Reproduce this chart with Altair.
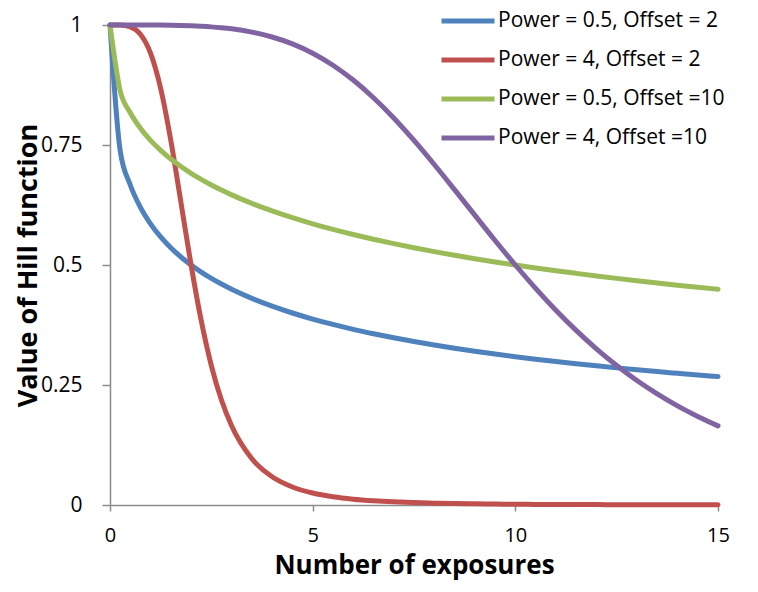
import altair as alt
import pandas as pd

x_vals = [0, 0.25, 0.5, 0.75, 1, 1.25, 1.5, 1.75, 2, 2.25, 2.5, 2.75, 3, 3.5, 4, 4.5, 5,
          5.5, 6, 6.5, 7, 7.5, 8, 8.5, 9, 9.5, 10, 10.5, 11, 11.5, 12, 12.5, 13, 13.5,
          14, 14.5, 15]

series_names = ["Power = 0.5, Offset = 2", "Power = 4, Offset = 2",
                "Power = 0.5, Offset =10", "Power = 4, Offset =10"]
series_colors = ["#4F81BD", "#C0504D", "#9BBB59", "#8064A2"]

blue = [1, 0.7388, 0.6667, 0.6202, 0.5858, 0.5585, 0.5359, 0.5167, 0.5, 0.4853, 0.4721,
        0.4603, 0.4495, 0.4305, 0.4142, 0.4, 0.3874, 0.3762, 0.3660, 0.3568, 0.3483,
        0.3405, 0.3333, 0.3266, 0.3204, 0.3145, 0.3090, 0.3038, 0.2989, 0.2943, 0.2899,
        0.2857, 0.2817, 0.2779, 0.2743, 0.2708, 0.2675]
red = [1, 0.9998, 0.9961, 0.9806, 0.9412, 0.8676, 0.7596, 0.6305, 0.5, 0.3844, 0.2906,
       0.2186, 0.1649, 0.0963, 0.0588, 0.0376, 0.0250, 0.0172, 0.0122, 0.0089, 0.0066,
       0.0050, 0.0039, 0.0031, 0.0024, 0.0020, 0.0016, 0.0013, 0.0011, 0.0009, 0.0008,
       0.0007, 0.0006, 0.0005, 0.0004, 0.0004, 0.0003]
green = [1, 0.8635, 0.8173, 0.7850, 0.7597, 0.7388, 0.7208, 0.7051, 0.6910, 0.6783,
         0.6667, 0.6560, 0.6461, 0.6283, 0.6126, 0.5985, 0.5858, 0.5742, 0.5635, 0.5536,
         0.5445, 0.5359, 0.5279, 0.5203, 0.5132, 0.5064, 0.5, 0.4939, 0.4881, 0.4826,
         0.4772, 0.4721, 0.4673, 0.4626, 0.4580, 0.4537, 0.4495]
purple = [1, 1, 1, 1, 0.9999, 0.9998, 0.9995, 0.9991, 0.9984, 0.9974, 0.9961, 0.9943,
          0.9920, 0.9852, 0.9750, 0.9606, 0.9412, 0.9162, 0.8853, 0.8485, 0.8064, 0.7596,
          0.7094, 0.6570, 0.6038, 0.5511, 0.5, 0.4514, 0.4058, 0.3638, 0.3254, 0.2906,
          0.2593, 0.2314, 0.2065, 0.1845, 0.1649]

y_ticks = [0, 0.25, 0.5, 0.75, 1]
x_ticks = [0, 5, 10, 15]

rows = []
for name, vals in zip(series_names, [blue, red, green, purple]):
    for xv, yv in zip(x_vals, vals):
        rows.append({"x": xv, "y": yv, "series": name})
df = pd.DataFrame(rows)

FONT = "Open Sans"

chart = alt.Chart(df).mark_line(strokeWidth=5, interpolate="monotone", strokeCap="round").encode(
    x=alt.X("x:Q", scale=alt.Scale(domain=[0, 15], nice=False),
            axis=alt.Axis(title="Number of exposures", values=x_ticks, format="d",
                          grid=False, domainColor="#8C8C8C", tickColor="#8C8C8C",
                          domainWidth=1.5, tickWidth=1.5, tickSize=6, labelFlush=False,
                          labelFont=FONT, labelFontSize=20, labelColor="#000000",
                          labelPadding=14,
                          titleFont=FONT, titleFontSize=26, titleFontWeight="bold",
                          titleColor="#000000", titlePadding=7)),
    y=alt.Y("y:Q", scale=alt.Scale(domain=[0, 1], nice=False),
            axis=alt.Axis(title="Value of Hill function", values=y_ticks,
                          labelExpr="datum.value == 0 ? '0' : datum.value == 1 ? '1' : format(datum.value, '.3~')",
                          grid=False, domainColor="#8C8C8C", tickColor="#8C8C8C",
                          domainWidth=1.5, tickWidth=1.5, tickSize=8, labelFlush=False,
                          labelFont=FONT, labelFontSize=21, labelColor="#000000",
                          labelPadding=20,
                          titleFont=FONT, titleFontSize=27, titleFontWeight="bold",
                          titleColor="#000000", titlePadding=-2)),
    color=alt.Color("series:N", sort=series_names,
                    scale=alt.Scale(domain=series_names, range=series_colors),
                    legend=alt.Legend(title=None, orient="none", legendX=329, legendY=-33,
                                      symbolType="stroke", symbolSize=2809,
                                      symbolStrokeWidth=5, labelFont=FONT,
                                      labelFontSize=21, labelColor="#000000",
                                      labelLimit=0, labelOffset=1, rowPadding=0)),
).properties(
    width=608, height=480,
    autosize=alt.AutoSizeParams(type="none"),
    padding={"left": 102, "top": 17, "right": 32, "bottom": 79},
).configure_view(stroke=None)

chart.save("out.html", embed_options={"renderer": "svg", "actions": False})
